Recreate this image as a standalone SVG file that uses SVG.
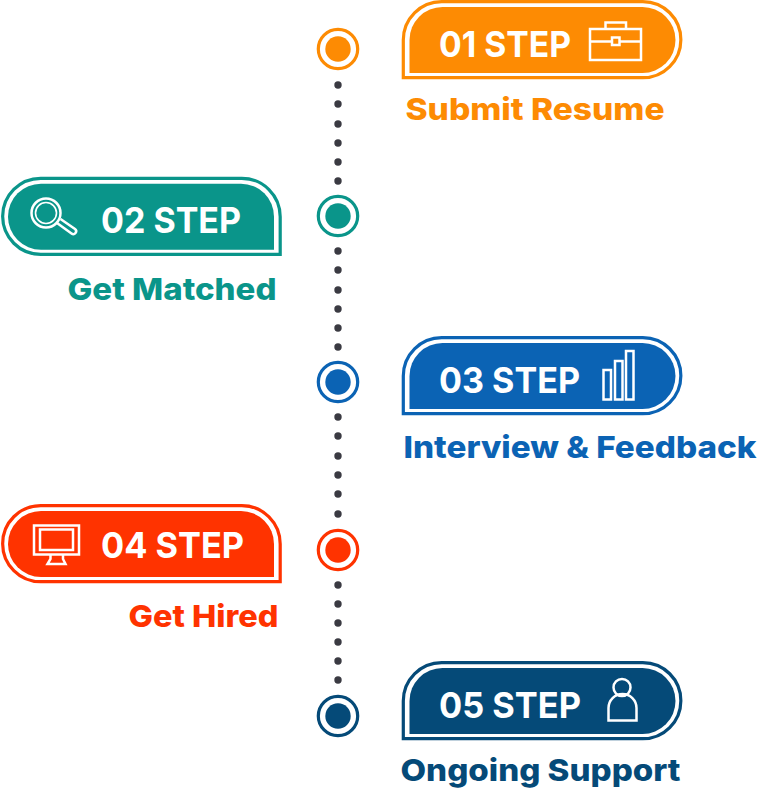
<svg xmlns="http://www.w3.org/2000/svg" width="757" height="800" viewBox="0 0 757 800">
<style>
.outline{fill:none;stroke-width:3.2}
.title{font-family:"Inter","Liberation Sans",sans-serif;font-weight:700;font-size:36px;fill:#fff}
.label{font-family:"Inter","Liberation Sans",sans-serif;font-weight:800;font-size:30.5px}
.icon{fill:none;stroke:#fff;stroke-width:2.5}
.ring{fill:#fff;stroke-width:3.2}
#connectors circle{fill:#3a3a42;r:3.7px}
</style>
<defs>
<path id="po" d="M403.300 77.700V40A38.400 38.400 0 0 1 441.700 1.600H642.800A38.050 38.050 0 0 1 642.800 77.700Z"/>
<path id="pi" d="M409.500 73V40A33 33 0 0 1 442.500 7H642.500A33 33 0 0 1 642.500 73Z"/>
</defs>
<rect width="757" height="800" fill="#fff"/>
<g id="connectors">
<circle cx="338" cy="85"/><circle cx="338" cy="104"/><circle cx="338" cy="124"/><circle cx="338" cy="143"/><circle cx="338" cy="162"/><circle cx="338" cy="181"/>
<circle cx="338" cy="251"/><circle cx="338" cy="270"/><circle cx="338" cy="290"/><circle cx="338" cy="309"/><circle cx="338" cy="328"/><circle cx="338" cy="347"/>
<circle cx="338" cy="417"/><circle cx="338" cy="436"/><circle cx="338" cy="456"/><circle cx="338" cy="475"/><circle cx="338" cy="494"/><circle cx="338" cy="514"/>
<circle cx="338" cy="585"/><circle cx="338" cy="604"/><circle cx="338" cy="623"/><circle cx="338" cy="642"/><circle cx="338" cy="661"/><circle cx="338" cy="680"/>
</g>
<g id="step-01">
<circle class="ring" cx="338" cy="49" r="19.700" stroke="#FD8B03"/><circle cx="338" cy="49" r="12.700" fill="#FD8B03"/>
<use href="#po" class="outline" stroke="#FD8B03"/><use href="#pi" fill="#FD8B03"/>
<text class="title" x="439" y="57" textLength="132" lengthAdjust="spacingAndGlyphs">01 STEP</text>
<g class="icon"><rect x="590" y="29" width="51" height="31"/><path d="M605.500 29V22.500H626V29M590 41.500H612M619.500 41.500H641"/><rect x="612" y="37.500" width="7.500" height="7.500"/></g>
<text class="label" x="405.500" y="120" fill="#FD8B03" textLength="259" lengthAdjust="spacingAndGlyphs">Submit Resume</text>
</g>
<g id="step-02">
<circle class="ring" cx="338" cy="216" r="19.700" stroke="#0A958A"/><circle cx="338" cy="216" r="12.700" fill="#0A958A"/>
<g transform="translate(683.500 176.700) scale(-1 1)"><use href="#po" class="outline" stroke="#0A958A"/><use href="#pi" fill="#0A958A"/></g>
<text class="title" x="101" y="233" textLength="140" lengthAdjust="spacingAndGlyphs">02 STEP</text>
<g class="icon"><circle cx="46" cy="213" r="14.500"/><circle cx="46" cy="213" r="10.500" stroke-width="1.600"/><path d="M57 223L71.500 233.500A2.800 2.800 0 0 0 75 229L60.500 219"/></g>
<text class="label" x="67.500" y="300" fill="#0A958A" textLength="209" lengthAdjust="spacingAndGlyphs">Get Matched</text>
</g>
<g id="step-03">
<circle class="ring" cx="338" cy="382" r="19.700" stroke="#0B63B4"/><circle cx="338" cy="382" r="12.700" fill="#0B63B4"/>
<g transform="translate(0 336)"><use href="#po" class="outline" stroke="#0B63B4"/><use href="#pi" fill="#0B63B4"/></g>
<text class="title" x="439" y="393" textLength="141" lengthAdjust="spacingAndGlyphs">03 STEP</text>
<g class="icon"><rect x="603.500" y="370" width="7.500" height="29.500"/><rect x="615" y="361" width="7.500" height="38.500"/><rect x="626" y="351" width="7.500" height="48.500"/></g>
<text class="label" x="403.500" y="458" fill="#0B63B4" textLength="353" lengthAdjust="spacingAndGlyphs">Interview &amp; Feedback</text>
</g>
<g id="step-04">
<circle class="ring" cx="338" cy="550" r="19.700" stroke="#FF3300"/><circle cx="338" cy="550" r="12.700" fill="#FF3300"/>
<g transform="translate(683.500 504) scale(-1 1)"><use href="#po" class="outline" stroke="#FF3300"/><use href="#pi" fill="#FF3300"/></g>
<text class="title" x="101" y="558" textLength="143" lengthAdjust="spacingAndGlyphs">04 STEP</text>
<g class="icon"><rect x="34" y="525.500" width="45" height="29"/><rect x="40" y="529.500" width="33" height="20.500"/><path d="M50.500 555V559L47.500 564H65.500L63 559V555"/></g>
<text class="label" x="128.500" y="627" fill="#FF3300" textLength="150" lengthAdjust="spacingAndGlyphs">Get Hired</text>
</g>
<g id="step-05">
<circle class="ring" cx="338" cy="716" r="19.700" stroke="#054A78"/><circle cx="338" cy="716" r="12.700" fill="#054A78"/>
<g transform="translate(0 661)"><use href="#po" class="outline" stroke="#054A78"/><use href="#pi" fill="#054A78"/></g>
<text class="title" x="439" y="718" textLength="142" lengthAdjust="spacingAndGlyphs">05 STEP</text>
<g class="icon"><circle cx="622" cy="687.500" r="8.500"/><path d="M608.500 720.500V708A14 14 0 0 1 636.500 708V720.500Z"/></g>
<text class="label" x="400.500" y="781" fill="#054A78" textLength="280" lengthAdjust="spacingAndGlyphs">Ongoing Support</text>
</g>
</svg>
